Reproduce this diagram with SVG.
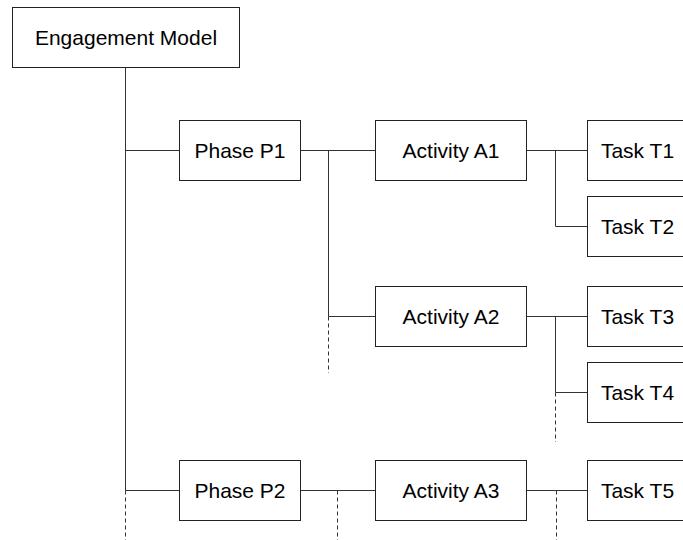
<svg xmlns="http://www.w3.org/2000/svg" width="683" height="540" viewBox="0 0 683 540">
<style>
.box{fill:#fff;stroke:#222;stroke-width:1}
.lbl{font-family:"Liberation Sans",Arial,sans-serif;font-size:21px;fill:#000;text-anchor:middle}
.ln{fill:none;stroke:#333;stroke-width:1}
.dash{fill:none;stroke:#333;stroke-width:1;stroke-dasharray:4,3}
</style>
<rect width="683" height="540" fill="#fff"/>
<g id="connectors">
<path class="ln" d="M125.5 67.5V490.5M125.5 150.5H179.5M125.5 490.5H179.5"/>
<path class="dash" d="M125.5 490.5V540"/>
<path class="ln" d="M300.5 150.5H375.5M328.5 150.5V316.5H375.5"/>
<path class="dash" d="M328.5 316.5V373"/>
<path class="ln" d="M526.5 150.5H587.5M555.5 150.5V226.5H587.5"/>
<path class="ln" d="M526.5 316.5H587.5M555.5 316.5V392.5H587.5"/>
<path class="dash" d="M555.5 392.5V442"/>
<path class="ln" d="M300.5 490.5H375.5M526.5 490.5H587.5"/>
<path class="dash" d="M337.5 490.5V540M556.5 490.5V540"/>
</g>
<g id="engagement-model"><rect class="box" x="12.5" y="7.5" width="227" height="60"/><text class="lbl" x="126" y="45">Engagement Model</text></g>
<g id="phase-p1"><rect class="box" x="179.5" y="120.5" width="121" height="60"/><text class="lbl" x="240" y="158">Phase P1</text></g>
<g id="activity-a1"><rect class="box" x="375.5" y="120.5" width="151" height="60"/><text class="lbl" x="451" y="158">Activity A1</text></g>
<g id="task-t1"><rect class="box" x="587.5" y="120.5" width="100" height="60"/><text class="lbl" x="637.5" y="158">Task T1</text></g>
<g id="task-t2"><rect class="box" x="587.5" y="196.5" width="100" height="60"/><text class="lbl" x="637.5" y="234">Task T2</text></g>
<g id="activity-a2"><rect class="box" x="375.5" y="286.5" width="151" height="60"/><text class="lbl" x="451" y="324">Activity A2</text></g>
<g id="task-t3"><rect class="box" x="587.5" y="286.5" width="100" height="60"/><text class="lbl" x="637.5" y="324">Task T3</text></g>
<g id="task-t4"><rect class="box" x="587.5" y="362.5" width="100" height="60"/><text class="lbl" x="637.5" y="400">Task T4</text></g>
<g id="phase-p2"><rect class="box" x="179.5" y="460.5" width="121" height="60"/><text class="lbl" x="240" y="498">Phase P2</text></g>
<g id="activity-a3"><rect class="box" x="375.5" y="460.5" width="151" height="60"/><text class="lbl" x="451" y="498">Activity A3</text></g>
<g id="task-t5"><rect class="box" x="587.5" y="460.5" width="100" height="60"/><text class="lbl" x="637.5" y="498">Task T5</text></g>
</svg>
